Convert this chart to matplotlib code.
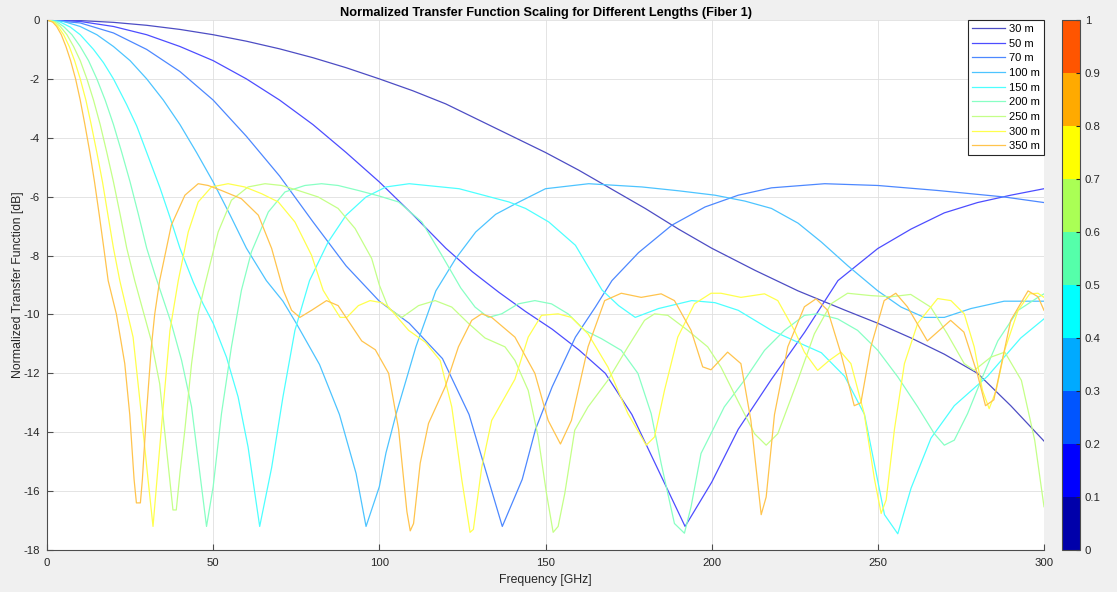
import matplotlib
matplotlib.use("Agg")
import matplotlib.pyplot as plt
from matplotlib.colors import ListedColormap, BoundaryNorm
import matplotlib.colorbar as mcolorbar

plt.rcParams["font.family"] = ["Liberation Sans", "DejaVu Sans"]
plt.rcParams["axes.unicode_minus"] = False

labels = ["30 m", "50 m", "70 m", "100 m", "150 m", "200 m", "250 m", "300 m", "350 m"]

f30 = [0, 10, 20, 30, 40, 50, 60, 70, 80, 90, 100, 110, 120, 130, 140, 150, 160, 170, 180, 190,
       200, 213, 226, 240, 250, 260, 270, 280, 290, 300]
d30 = [0, -0.02, -0.08, -0.18, -0.32, -0.5, -0.72, -0.98, -1.28, -1.62, -2.0, -2.4, -2.85, -3.4,
       -3.95, -4.5, -5.1, -5.75, -6.4, -7.1, -7.75, -8.5, -9.2, -9.85, -10.3, -10.8, -11.35, -12.0,
       -13.1, -14.3]

f50 = [0, 10, 20, 30, 40, 50, 60, 70, 80, 90, 100, 110, 120, 128, 136, 144, 152, 160, 168, 176,
       184, 192, 200, 208, 218, 228, 238, 250, 260, 270, 280, 290, 300]
d50 = [0, -0.05, -0.22, -0.5, -0.9, -1.38, -2.0, -2.72, -3.55, -4.5, -5.5, -6.6, -7.75, -8.55,
       -9.25, -9.9, -10.5, -11.2, -12.0, -13.4, -15.3, -17.2, -15.7, -13.9, -12.2, -10.6, -8.85,
       -7.76, -7.1, -6.55, -6.2, -5.95, -5.73]

f70 = [0, 10, 20, 30, 40, 50, 60, 70, 80, 90, 100, 109, 119, 127, 132, 137, 143, 147, 152, 159,
       165, 170, 178, 188, 198, 208, 218, 234, 250, 268, 288, 300]
d70 = [0, -0.1, -0.44, -1.0, -1.75, -2.72, -3.95, -5.3, -6.85, -8.35, -9.55, -10.3, -11.5, -13.4,
       -15.3, -17.2, -15.6, -13.9, -12.46, -10.77, -9.75, -8.85, -7.9, -6.97, -6.35, -5.95, -5.7,
       -5.56, -5.62, -5.79, -6.01, -6.2]

f100 = [0, 5, 10, 15, 20, 25, 30, 35, 40, 45, 50, 55, 60, 66, 71, 75, 82, 88, 93, 96, 100, 102,
        105, 111, 117, 123, 129, 135, 141, 150, 163, 179, 190, 201, 210, 218, 226, 233, 241, 250,
        257, 264, 270, 278, 288, 300]
d100 = [0, -0.05, -0.22, -0.5, -0.9, -1.38, -2.0, -2.72, -3.55, -4.5, -5.5, -6.6, -7.75, -8.85,
        -9.55, -10.3, -11.7, -13.4, -15.4, -17.2, -15.85, -14.7, -13.4, -11.1, -9.2, -8.1, -7.2,
        -6.6, -6.24, -5.73, -5.56, -5.67, -5.8, -5.95, -6.15, -6.4, -6.9, -7.54, -8.35, -9.2,
        -9.75, -10.1, -10.1, -9.8, -9.55, -9.55]

f150 = [0, 4, 7, 10, 14, 17, 20, 24, 27, 30, 34, 37, 40, 44, 47, 50, 54, 57.5, 60.5, 64, 67.6,
        71, 74.6, 79, 84.6, 90, 96, 102, 109, 124, 139, 144, 151, 159, 167, 172, 177, 184, 194,
        201, 208, 218, 228, 233, 240, 246, 252, 256, 260, 266, 273, 283, 293, 300]
d150 = [0, -0.07, -0.24, -0.5, -1.0, -1.45, -2.0, -2.88, -3.6, -4.5, -5.7, -6.7, -7.75, -8.9,
        -9.65, -10.3, -11.45, -12.8, -14.5, -17.2, -15.2, -12.8, -10.54, -8.85, -7.54, -6.63,
        -6.01, -5.67, -5.56, -5.73, -6.18, -6.4, -6.86, -7.65, -9.17, -9.7, -10.1, -9.8, -9.53,
        -9.6, -9.86, -10.54, -11.05, -11.3, -12.1, -13.4, -16.8, -17.45, -15.9, -14.2, -13.1,
        -12.1, -10.8, -10.15]

f200 = [0, 3, 5, 7.5, 10, 12.5, 15, 17.5, 20, 22.5, 25, 27.5, 30, 32.5, 37.4, 40.5, 43.5, 46, 48,
        50, 52.5, 55.5, 58.5, 61.5, 66.6, 71.6, 77.6, 82.6, 87.6, 93.7, 100, 105.8, 112.8, 118.8,
        124.5, 128.8, 132.8, 136.8, 141.8, 146.8, 151.8, 156.8, 161.8, 166.8, 172.8, 177.8,
        181.8, 184.8, 188.8, 191.8, 193.8, 196.8, 200.8, 203.8, 209.8, 215.9, 221.9, 227.9,
        231.9, 237.9, 243.9, 250, 256, 262, 267, 270, 273, 277, 281.5, 286.1, 292.2, 298.2, 300]
d200 = [0, -0.07, -0.22, -0.5, -0.9, -1.38, -2.0, -2.72, -3.55, -4.5, -5.5, -6.6, -7.75, -8.65,
        -10.3, -11.56, -13.14, -15.4, -17.2, -15.85, -13.37, -11.1, -9.18, -7.88, -6.52, -5.84,
        -5.62, -5.56, -5.62, -5.79, -5.98, -6.18, -6.86, -7.99, -9.1, -9.75, -10.1, -9.98, -9.64,
        -9.53, -9.64, -9.98, -10.54, -10.82, -11.22, -12.0, -13.37, -15.06, -17.1, -17.43,
        -16.53, -14.72, -13.82, -13.14, -12.24, -11.22, -10.54, -10.03, -9.98, -10.15, -10.54,
        -11.22, -12.12, -13.14, -14.05, -14.44, -14.27, -13.37, -12.12, -10.9, -9.86, -9.42,
        -9.3]

f250 = [0, 2.4, 4, 6, 8, 10, 12, 14, 16, 18, 20, 22, 24, 26.4, 31.4, 33.9, 35.9, 37.9, 38.9, 40,
        41.5, 43.5, 45.5, 47.5, 51.5, 55.5, 60.5, 65.6, 70.6, 75.6, 81.6, 87.6, 92.7, 97.7, 100,
        102.8, 106.8, 111.8, 116.8, 121.8, 126.8, 131.8, 137.8, 140.8, 144.8, 147.8, 150.3,
        152.3, 153.8, 155.8, 158.8, 162.8, 168.8, 174.8, 179.8, 182.8, 186.8, 192.8, 198.8,
        202.8, 207.8, 212.9, 216.4, 219.9, 225.9, 230.9, 235.9, 240.9, 247.9, 253.9, 259.9,
        265.9, 270.9, 276, 279, 284, 288.2, 293.2, 297.2, 300]
d250 = [0, -0.07, -0.22, -0.5, -0.9, -1.38, -2.0, -2.72, -3.55, -4.5, -5.5, -6.6, -7.75, -8.85,
        -10.9, -12.35, -14.5, -16.64, -16.64, -15.4, -13.9, -11.67, -9.98, -9.0, -7.2, -6.12,
        -5.67, -5.56, -5.62, -5.79, -6.01, -6.4, -7.08, -8.1, -9.0, -9.8, -10.1, -9.7, -9.53,
        -9.75, -10.3, -10.8, -11.1, -11.56, -12.58, -14.16, -16.08, -17.4, -17.2, -16.08,
        -13.93, -13.14, -12.23, -11.1, -10.2, -9.98, -10.03, -10.54, -11.1, -11.79, -12.92,
        -14.05, -14.44, -14.05, -12.24, -10.66, -9.64, -9.28, -9.36, -9.4, -9.32, -9.75, -10.66,
        -11.67, -11.9, -11.45, -11.28, -12.24, -14.27, -16.53]

f300 = [0, 2, 3.3, 5, 6.7, 8.3, 10, 11.7, 13.3, 15, 16.7, 18.3, 20, 21.9, 25.9, 28.4, 30.4, 31.9,
        33.4, 35, 37, 39.5, 42.5, 45.5, 49.5, 54.5, 59.5, 64.6, 69.6, 74.6, 79.6, 83.1, 85.6,
        88.2, 90.2, 93.7, 97.2, 100.7, 102.8, 108.8, 113.8, 118.3, 121.8, 124.8, 127.3, 128.3,
        130.8, 133.8, 136.8, 140.8, 144.8, 148.8, 153.8, 157.8, 162.8, 168.8, 174.8, 180.3,
        182.8, 185.8, 189.8, 194.8, 199.8, 202.8, 208.8, 215.9, 219.9, 224.9, 227.9, 231.9,
        235.4, 238.9, 241.9, 245.9, 249, 251, 252.5, 255, 258, 262, 268, 272, 276, 279, 281.5,
        283.5, 285.6, 288.2, 292.2, 295.7, 298.2, 300]
d300 = [0, -0.07, -0.22, -0.5, -0.9, -1.38, -2.0, -2.72, -3.55, -4.5, -5.5, -6.6, -7.75, -8.85,
        -10.77, -13.4, -15.6, -17.2, -15.2, -13.1, -10.54, -8.85, -7.2, -6.18, -5.67, -5.56,
        -5.67, -5.9, -6.18, -6.86, -7.99, -9.18, -9.64, -10.1, -10.1, -9.7, -9.53, -9.6, -9.75,
        -10.54, -10.94, -11.56, -13.14, -15.6, -17.4, -17.3, -15.2, -13.6, -13.0, -12.2, -10.77,
        -10.03, -9.98, -10.1, -10.66, -11.79, -13.37, -14.44, -14.16, -12.58, -10.77, -9.64,
        -9.28, -9.28, -9.42, -9.3, -9.53, -10.54, -11.28, -11.9, -11.56, -11.28, -11.67, -13.37,
        -15.6, -16.76, -16.3, -13.9, -11.67, -10.3, -9.46, -9.53, -9.98, -11.1, -12.58, -13.2,
        -12.58, -11.2, -9.86, -9.3, -9.28, -9.42]

f350 = [0, 1.7, 2.9, 4.3, 5.7, 7.1, 8.6, 10, 11.4, 12.9, 14.3, 15.7, 17.1, 18.4, 20.9, 23.4,
        24.9, 26.2, 26.9, 28.1, 28.7, 29.9, 31.4, 32.4, 33.9, 37.4, 41.5, 45.5, 48.5, 52.5, 58.5,
        63.6, 67.6, 71.1, 73.6, 76.1, 79.6, 84.1, 87.6, 94.7, 98.8, 102.8, 105.8, 108.3, 109.3,
        110.3, 112.3, 114.8, 119.8, 123.8, 127.8, 130.8, 133.8, 140.8, 146.8, 150.8, 154.5,
        157.8, 162.8, 167.8, 172.8, 178.8, 184.8, 188.8, 193.8, 197.3, 199.8, 204.8, 208.8,
        211.8, 214.9, 216.4, 218.9, 222.9, 227.9, 231.4, 234.9, 238.9, 242.9, 244.9, 247.9,
        251.9, 255.4, 258.9, 264.9, 271.9, 275.9, 279.9, 282.4, 284.9, 290, 295.2, 298.2, 300]
d350 = [0, -0.07, -0.22, -0.5, -0.9, -1.38, -2.0, -2.72, -3.55, -4.5, -5.5, -6.6, -7.75, -8.85,
        -10.0, -11.67, -13.4, -15.6, -16.4, -16.4, -15.6, -13.4, -11.1, -10.0, -8.85, -6.97,
        -5.95, -5.56, -5.62, -5.79, -6.07, -6.63, -7.76, -9.18, -9.86, -10.1, -9.86, -9.53, -9.7,
        -10.9, -11.2, -12.0, -13.9, -16.7, -17.35, -17.1, -15.05, -13.7, -12.46, -11.1, -10.2,
        -9.98, -10.1, -10.77, -12.0, -13.6, -14.4, -13.6, -11.1, -9.53, -9.28, -9.42, -9.3,
        -9.53, -10.54, -11.78, -11.88, -11.28, -11.67, -13.6, -16.8, -16.2, -13.4, -11.1, -9.74,
        -9.47, -9.86, -11.33, -13.1, -13.0, -11.1, -9.53, -9.28, -9.74, -10.9, -10.2, -10.6,
        -12.0, -13.1, -12.9, -10.2, -9.2, -9.4, -9.86]

freqs = [f30, f50, f70, f100, f150, f200, f250, f300, f350]
gains = [d30, d50, d70, d100, d150, d200, d250, d300, d350]

jet10 = [(0, 0, 0.667), (0, 0, 1), (0, 0.333, 1), (0, 0.667, 1), (0, 1, 1),
         (0.333, 1, 0.667), (0.667, 1, 0.333), (1, 1, 0), (1, 0.667, 0), (1, 0.333, 0)]
alpha = 0.7
line_colors = [tuple(alpha * c + (1 - alpha) for c in rgb) for rgb in jet10]

fig = plt.figure(figsize=(11.17, 5.92), dpi=100, facecolor="#f0f0f0")
ax = fig.add_axes([47 / 1117, 42 / 592, 997 / 1117, 530 / 592])
ax.set_facecolor("white")

for f, d, lab, col in zip(freqs, gains, labels, line_colors):
    ax.plot(f, d, color=col, linewidth=0.9, label=lab)

ax.set_xlim(0, 300)
ax.set_ylim(-18, 0)
ax.set_xticks(range(0, 301, 50))
ax.set_yticks(range(-18, 1, 2))
ax.grid(True, color="#dfdfdf", linewidth=0.6)
ax.set_axisbelow(True)
for side in ["top", "right"]:
    ax.spines[side].set_visible(False)
for side in ["left", "bottom"]:
    ax.spines[side].set_color("#4d4d4d")
    ax.spines[side].set_linewidth(0.8)
ax.tick_params(direction="in", length=4, width=0.8, color="#4d4d4d",
               labelsize=8.2, labelcolor="#262626")
ax.tick_params(axis="x", pad=6)
ax.tick_params(axis="y", pad=5)

ax.set_xlabel("Frequency [GHz]", fontsize=8.8, color="#262626", labelpad=4)
ax.set_ylabel("Normalized Transfer Function [dB]", fontsize=8.8, color="#262626", labelpad=0)
ax.set_title("Normalized Transfer Function Scaling for Different Lengths (Fiber 1)",
             fontsize=9.2, fontweight="bold", color="#000000", pad=3)

leg = ax.legend(loc="upper right", fontsize=8, frameon=True, fancybox=False,
                edgecolor="#262626", framealpha=1, borderaxespad=0, handlelength=3.0,
                handletextpad=0.35, labelspacing=0.42, borderpad=0.35)
leg.get_frame().set_linewidth(0.8)

cax = fig.add_axes([1062 / 1117, 42 / 592, 18 / 1117, 530 / 592])
cmap = ListedColormap(jet10)
norm = BoundaryNorm([i / 10 for i in range(11)], cmap.N)
cb = mcolorbar.ColorbarBase(cax, cmap=cmap, norm=norm, ticks=[i / 10 for i in range(11)])
cb.ax.set_yticklabels(["0", "0.1", "0.2", "0.3", "0.4", "0.5", "0.6", "0.7", "0.8", "0.9", "1"])
cb.outline.set_edgecolor("#4d4d4d")
cb.outline.set_linewidth(0.8)
cb.ax.tick_params(direction="in", length=3, width=0.8, color="#262626",
                  labelsize=8.2, labelcolor="#262626")

fig.savefig("out.png", dpi=100, facecolor=fig.get_facecolor())
